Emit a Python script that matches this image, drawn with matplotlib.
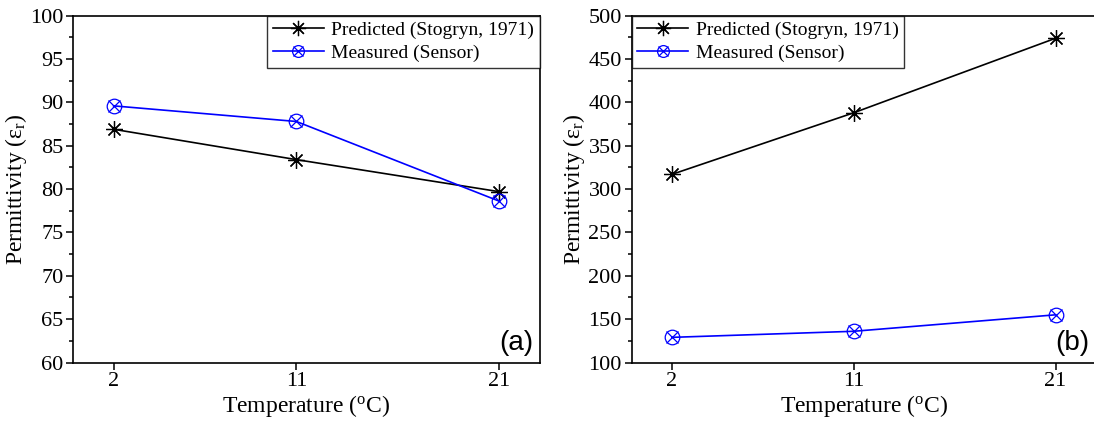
import matplotlib
matplotlib.use("Agg")
import matplotlib.pyplot as plt
from matplotlib.lines import Line2D
from matplotlib.legend_handler import HandlerTuple
from matplotlib.ticker import MultipleLocator

plt.rcParams['font.family'] = ['Liberation Serif', 'DejaVu Serif']
plt.rcParams['mathtext.fontset'] = 'custom'
plt.rcParams['mathtext.rm'] = 'Liberation Serif'
plt.rcParams['mathtext.it'] = 'Liberation Serif:italic'

temps = [2, 11, 21]
pred_a = [86.9, 83.4, 79.7]
meas_a = [89.6, 87.8, 78.6]
pred_b = [317, 388, 474]
meas_b = [129, 136, 155]
x_ticks = [2, 11, 21]
labels = ['Predicted (Stogryn, 1971)', 'Measured (Sensor)']

fig = plt.figure(figsize=(10.94, 4.25), dpi=100)
W, H = 1094, 425
ax_a = fig.add_axes([73/W, 1-362.5/H, (540-73)/W, (362.5-15.7)/H])
ax_b = fig.add_axes([631.5/W, 1-362.5/H, (1096-631.5)/W, (362.5-15.7)/H])

star = (8, 2, 0)

def draw(ax, pred, meas, ylim, major, minor, tag, legloc):
    ax.plot(temps, pred, color='black', lw=1.2, marker=star, ms=12,
            mec='black', mew=0.9)
    ax.plot(temps, meas, color='blue', lw=1.2, marker='o', ms=10.5,
            mfc='none', mec='blue', mew=0.9)
    ax.plot(temps, meas, color='none', lw=0, marker='x', ms=8,
            mec='blue', mew=0.9)
    ax.set_xlim(0, 23)
    ax.set_ylim(*ylim)
    ax.set_xticks(x_ticks)
    ax.yaxis.set_major_locator(MultipleLocator(major))
    ax.yaxis.set_minor_locator(MultipleLocator(minor))
    ax.tick_params(axis='both', which='major', direction='out', length=5,
                   width=1.1, labelsize=16, right=False, top=False, pad=2)
    ax.tick_params(axis='y', which='minor', direction='out', length=3,
                   width=1.1, right=False)
    for s in ax.spines.values():
        s.set_linewidth(1.2)
    ax.set_xlabel('Temperature ($^\\mathrm{o}$C)', fontsize=17, labelpad=1)
    ax.set_ylabel('Permittivity (ε$_\\mathrm{r}$)', fontsize=17, labelpad=1)
    ax.text(0.985, 0.02, tag, transform=ax.transAxes, ha='right',
            va='bottom', fontsize=20, family='Liberation Sans')
    h1 = Line2D([], [], color='black', lw=1.2, marker=star, ms=11,
                mec='black', mew=0.9)
    h2a = Line2D([], [], color='blue', lw=1.2, marker='o', ms=8.5,
                 mfc='none', mec='blue', mew=0.9)
    h2b = Line2D([], [], color='none', lw=0, marker='x', ms=6.5,
                 mec='blue', mew=0.9)
    leg = ax.legend([h1, (h2a, h2b)], labels, loc=legloc, fontsize=14,
                    frameon=True, fancybox=False, edgecolor='black',
                    borderaxespad=0, handlelength=2.6, handletextpad=0.4,
                    borderpad=0.3, labelspacing=0.28,
                    handler_map={tuple: HandlerTuple(ndivide=1)})
    leg.get_frame().set_linewidth(1.0)

draw(ax_a, pred_a, meas_a, (60, 100), 5, 2.5, '(a)', 'upper right')
draw(ax_b, pred_b, meas_b, (100, 500), 50, 25, '(b)', 'upper left')

fig.savefig('out.png', dpi=100)
